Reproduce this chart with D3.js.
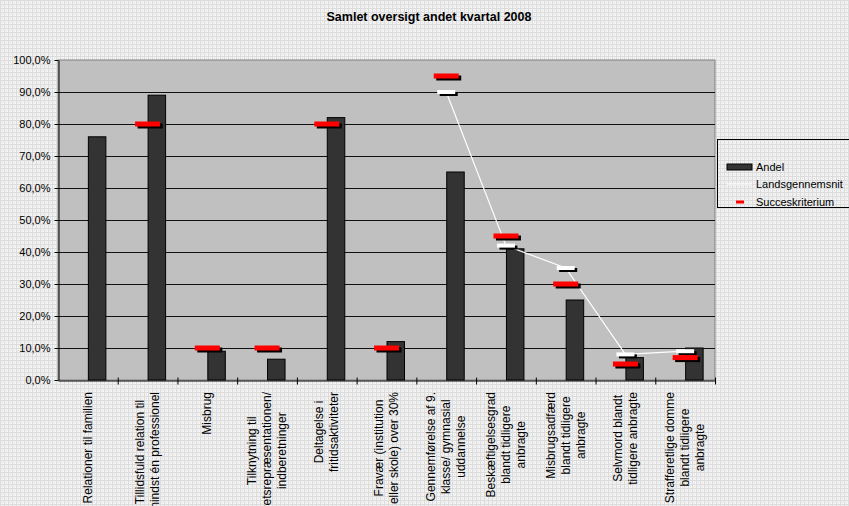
<!DOCTYPE html>
<html>
<head>
<meta charset="utf-8">
<script src="https://cdn.jsdelivr.net/npm/d3@7"></script>
<style>
  html, body { margin: 0; padding: 0; background: #fff; }
  svg { display: block; font-family: "Liberation Sans", Arial, sans-serif; }
</style>
</head>
<body>
<svg id="chart" width="849" height="506"></svg>
<script>
// ---- data ----
const title = "Samlet oversigt andet kvartal 2008";
const categories = [
  ["Relationer til familien"],
  ["Tillidsfuld relation til", "mindst én professionel"],
  ["Misbrug"],
  ["Tilknytning til", "retsrepræsentationen/", "indberetninger"],
  ["Deltagelse i", "fritidsaktiviteter"],
  ["Fravær (institution", "eller skole) over 30%"],
  ["Gennemførelse af 9.", "klasse/ gymnasial", "uddannelse"],
  ["Beskæftigelsesgrad", "blandt tidligere", "anbragte"],
  ["Misbrugsadfærd", "blandt tidligere", "anbragte"],
  ["Selvmord blandt", "tidligere anbragte"],
  ["Strafferetlige domme", "blandt tidligere", "anbragte"]
];
const andel = [0.76, 0.89, 0.09, 0.065, 0.82, 0.12, 0.65, 0.41, 0.25, 0.07, 0.10];
const landsgennemsnit = [null, null, null, null, null, null, 0.90, 0.42, 0.35, 0.08, 0.09];
const succeskriterium = [null, 0.80, 0.10, 0.10, 0.80, 0.10, 0.95, 0.45, 0.30, 0.05, 0.07];
const yTicks = [0, 0.1, 0.2, 0.3, 0.4, 0.5, 0.6, 0.7, 0.8, 0.9, 1.0];
const seriesNames = ["Andel", "Landsgennemsnit", "Succeskriterium"];

// ---- layout ----
const plot = { left: 58, right: 715, top: 60, bottom: 380 };
const svg = d3.select("#chart");
const catKeys = categories.map((c, i) => i);

const x = d3.scaleBand().domain(catKeys).range([plot.left, plot.right]).paddingInner(0).paddingOuter(0);
const xb = d3.scaleLinear().domain([0, categories.length]).range([plot.left, plot.right]);
const y = d3.scaleLinear().domain([0, 1]).range([plot.bottom, plot.top]);
const da = d3.formatLocale({ decimal: ",", thousands: ".", grouping: [3], currency: ["", " kr"], percent: "%" });
const pct = da.format(".1%");

// background pattern
const defs = svg.append("defs");
const pat = defs.append("pattern").attr("id", "bgpat").attr("width", 4).attr("height", 4)
  .attr("patternUnits", "userSpaceOnUse");
pat.append("rect").attr("width", 4).attr("height", 4).attr("fill", "#f3f3f3");
pat.append("rect").attr("x", 0).attr("y", 0).attr("width", 4).attr("height", 1).attr("fill", "#dcdcdc");
pat.append("rect").attr("x", 0).attr("y", 0).attr("width", 1).attr("height", 4).attr("fill", "#dcdcdc");
pat.append("rect").attr("x", 2).attr("y", 2).attr("width", 1).attr("height", 1).attr("fill", "#e4e4e4");

svg.append("rect").attr("width", 849).attr("height", 506).attr("fill", "url(#bgpat)");

// title
svg.append("text").attr("x", 429).attr("y", 21).attr("text-anchor", "middle")
  .attr("font-size", 12.5).attr("font-weight", "bold").attr("fill", "#000").text(title);

// plot area
svg.append("rect").attr("x", plot.left).attr("y", plot.top)
  .attr("width", plot.right - plot.left).attr("height", plot.bottom - plot.top)
  .attr("fill", "#c0c0c0").attr("stroke", "#808080").attr("stroke-width", 1);

// gridlines
svg.append("g").selectAll("line").data(yTicks.filter(t => t > 0 && t < 1)).join("line")
  .attr("x1", plot.left).attr("x2", plot.right)
  .attr("y1", d => Math.round(y(d)) + 0.5).attr("y2", d => Math.round(y(d)) + 0.5)
  .attr("stroke", "#111").attr("stroke-width", 1);

// y axis
const yAxis = svg.append("g").attr("transform", `translate(${plot.left + 0.5},0)`)
  .call(d3.axisLeft(y).tickValues(yTicks).tickFormat(pct).tickSize(4).tickSizeOuter(0));
yAxis.select(".domain").attr("stroke", "#000");
yAxis.selectAll(".tick line").attr("stroke", "#000");
yAxis.selectAll(".tick text").attr("font-size", 11).attr("fill", "#000")
  .attr("font-family", "Liberation Sans, Arial, sans-serif").attr("x", -8);

// x axis (ticks at category boundaries)
const xAxis = svg.append("g").attr("transform", `translate(0,${plot.bottom + 0.5})`)
  .call(d3.axisBottom(xb).tickValues(d3.range(1, categories.length + 1)).tickFormat("").tickSize(4).tickSizeOuter(0));
xAxis.select(".domain").attr("stroke", "#000");
xAxis.selectAll(".tick line").attr("stroke", "#000").attr("y1", -3);

// bars
const barW = 17.5;
svg.append("g").selectAll("rect").data(andel).join("rect")
  .attr("x", (d, i) => x(i) + x.bandwidth() / 2 + 0.5)
  .attr("y", d => y(d))
  .attr("width", barW)
  .attr("height", d => y(0) - y(d))
  .attr("fill", "#333333").attr("stroke", "#000").attr("stroke-width", 1);

// Landsgennemsnit line
const lgPts = landsgennemsnit.map((v, i) => ({ i, v })).filter(d => d.v != null);
svg.append("path").datum(lgPts)
  .attr("d", d3.line().x(d => x(d.i) + x.bandwidth() / 2).y(d => y(d.v)))
  .attr("fill", "none").attr("stroke", "#fff").attr("stroke-width", 1.2);

// marker helper (dash with black shadow)
function dashes(data, w, h, color) {
  const g = svg.append("g");
  const pts = data.map((v, i) => ({ i, v })).filter(d => d.v != null);
  g.selectAll("rect.sh").data(pts).join("rect").attr("class", "sh")
    .attr("x", d => x(d.i) + x.bandwidth() / 2 - w / 2 + 2.5)
    .attr("y", d => y(d.v) - h / 2 + 2)
    .attr("width", w).attr("height", h).attr("fill", "#000");
  g.selectAll("rect.fg").data(pts).join("rect").attr("class", "fg")
    .attr("x", d => x(d.i) + x.bandwidth() / 2 - w / 2)
    .attr("y", d => y(d.v) - h / 2)
    .attr("width", w).attr("height", h).attr("fill", color);
}
dashes(landsgennemsnit, 18, 4, "#ffffff");
dashes(succeskriterium, 25, 5, "#ff0000");

// x labels (rotated)
const lineGap = 15;
const labels = svg.append("g").attr("font-size", 12).attr("fill", "#000");
categories.forEach((lines, i) => {
  const cx = x(i) + x.bandwidth() / 2;
  const tmp = labels.append("text").attr("visibility", "hidden");
  let maxW = 0;
  lines.forEach(l => { tmp.text(l); maxW = Math.max(maxW, tmp.node().getComputedTextLength()); });
  tmp.remove();
  const top = 392;
  const cy = top + maxW / 2;
  const n = lines.length;
  lines.forEach((l, j) => {
    const lx = cx + (j - (n - 1) / 2) * lineGap + 4;
    labels.append("text")
      .attr("transform", `translate(${lx},${cy}) rotate(-90)`)
      .attr("text-anchor", "middle")
      .text(l);
  });
});

// legend
const lg = svg.append("g");
lg.append("rect").attr("x", 717.5).attr("y", 139.5).attr("width", 140).attr("height", 68)
  .attr("fill", "url(#bgpat)").attr("stroke", "#000").attr("stroke-width", 1);
const legY = [167, 184, 202];
lg.append("rect").attr("x", 727).attr("y", legY[0] - 3).attr("width", 25).attr("height", 6)
  .attr("fill", "#333333").attr("stroke", "#000").attr("stroke-width", 1);
lg.append("line").attr("x1", 727).attr("x2", 752).attr("y1", legY[1]).attr("y2", legY[1])
  .attr("stroke", "#fff").attr("stroke-width", 1);
lg.append("rect").attr("x", 736).attr("y", legY[2] - 1.5).attr("width", 8).attr("height", 3).attr("fill", "#ff0000");
lg.selectAll("text").data(seriesNames).join("text")
  .attr("x", 756).attr("y", (d, i) => legY[i] + 4)
  .attr("font-size", 11).attr("fill", "#000").text(d => d);
</script>
</body>
</html>
